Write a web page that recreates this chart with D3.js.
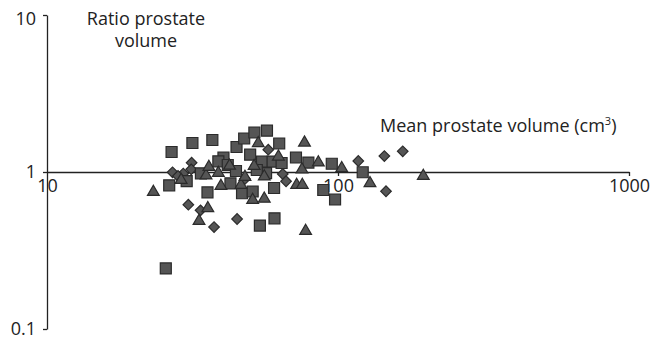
<!DOCTYPE html>
<html>
<head>
<meta charset="utf-8">
<script src="https://cdn.jsdelivr.net/npm/d3@7"></script>
<style>
  html, body { margin: 0; padding: 0; background: #fff; }
  text { font-family: "Open Sans", "Noto Sans", sans-serif; fill: #222; }
</style>
</head>
<body>
<svg id="chart" width="651" height="339"></svg>
<script>
// Mean prostate volume (cm³) and ratio of prostate volume, one array pair per group
const squareX = [26.8, 31.6, 37.0, 44.8, 47.6, 51.6, 57.0, 62.8, 49.9, 40.4, 38.8, 41.8, 54.8, 59.6, 64.0, 71.7, 79.1, 95.2, 121.6, 44.6, 33.8, 30.2, 26.3, 35.6, 42.7, 46.8, 50.9, 60.3, 56.6, 52.6, 89.0, 97.7, 53.9, 60.5, 25.6];
const squareY = [1.341, 1.530, 1.599, 1.443, 1.635, 1.785, 1.833, 1.519, 1.289, 1.233, 1.170, 1.108, 1.163, 1.166, 1.141, 1.237, 1.149, 1.129, 0.996, 1.015, 0.981, 0.876, 0.823, 0.742, 0.847, 0.732, 0.751, 0.791, 0.985, 1.030, 0.768, 0.668, 0.456, 0.507, 0.243];

const triangleX = [23.2, 28.9, 35.2, 36.0, 38.8, 42.4, 53.2, 76.7, 62.4, 51.5, 55.8, 39.6, 46.4, 50.9, 55.8, 35.7, 33.3, 75.2, 72.1, 75.4, 85.6, 103.0, 128.8, 196.4, 77.4, 47.9];
const triangleY = [0.746, 0.889, 0.950, 1.076, 0.985, 1.095, 1.523, 1.537, 1.252, 1.092, 0.936, 0.814, 0.826, 0.663, 0.675, 0.587, 0.487, 1.037, 0.826, 0.826, 1.149, 1.056, 0.847, 0.943, 0.421, 0.929];

const diamondX = [27.0, 29.4, 31.4, 31.3, 57.6, 64.6, 66.3, 47.9, 30.6, 33.7, 37.5, 45.0, 117.4, 144.3, 166.9, 146.2, 28.2];
const diamondY = [0.996, 0.978, 1.146, 1.040, 1.387, 0.971, 0.873, 0.903, 0.619, 0.570, 0.446, 0.502, 1.175, 1.264, 1.355, 0.754, 0.943];

const xTicks = [10, 100, 1000];
const yTicks = [0.1, 1, 10];
const yTitle = ["Ratio prostate", "volume"];

const svg = d3.select("#chart");

const x = d3.scaleLog().domain([10, 1000]).range([47, 629]);
const y = d3.scaleLog().domain([0.1, 10]).range([329, 15]);

const axisColor = "#222";

// vertical axis at x = 10
const yAxis = svg.append("g")
  .attr("transform", `translate(${x(10)},0)`)
  .call(d3.axisLeft(y).tickValues(yTicks).tickFormat(d3.format("")).tickSize(4).tickSizeOuter(0).tickPadding(7));

// horizontal axis crossing at ratio = 1
const xAxis = svg.append("g")
  .attr("transform", `translate(0,${y(1)})`)
  .call(d3.axisBottom(x).tickValues(xTicks).tickFormat(d3.format("")).tickSize(4).tickSizeOuter(0).tickPadding(3));

[yAxis, xAxis].forEach(g => {
  g.select(".domain").attr("stroke", axisColor).attr("stroke-width", 1.3);
  g.selectAll(".tick line").attr("stroke", axisColor).attr("stroke-width", 1.3);
  g.selectAll(".tick text").attr("fill", "#222").style("font-size", "18px")
    .style("font-family", '"Open Sans", "Noto Sans", sans-serif');
});
xAxis.selectAll(".tick").filter(d => d === 10).select("line").remove();
yAxis.selectAll(".tick").filter(d => d === 10).select("text").attr("dy", "0.55em");

// axis titles, one text line each
svg.append("g").selectAll("text").data(yTitle).join("text")
  .attr("text-anchor", "middle")
  .style("font-size", "18px")
  .attr("x", 146)
  .attr("y", (d, i) => 25 + i * 22)
  .text(d => d);

const t2 = svg.append("text").attr("x", 380).attr("y", 132).style("font-size", "18px");
t2.append("tspan").text("Mean prostate volume (cm");
t2.append("tspan").attr("dy", -7).style("font-size", "11px").text("3");
t2.append("tspan").attr("dy", 7).text(")");

// markers
const fill = "#555555", stroke = "#2b2b2b";
const marks = svg.append("g");

function drawSeries(xs, ys, type, size, rotate) {
  const pts = xs.map((v, i) => [v, ys[i]]);
  marks.append("g").selectAll("path").data(pts).join("path")
    .attr("d", d3.symbol().type(type).size(size))
    .attr("transform", d => `translate(${x(d[0])},${y(d[1])})${rotate ? " rotate(45)" : ""}`)
    .attr("fill", fill)
    .attr("stroke", stroke)
    .attr("stroke-width", 1.2);
}

drawSeries(diamondX, diamondY, d3.symbolSquare, 56, true);
drawSeries(squareX, squareY, d3.symbolSquare, 121, false);
drawSeries(triangleX, triangleY, d3.symbolTriangle, 60, false);
</script>
</body>
</html>
